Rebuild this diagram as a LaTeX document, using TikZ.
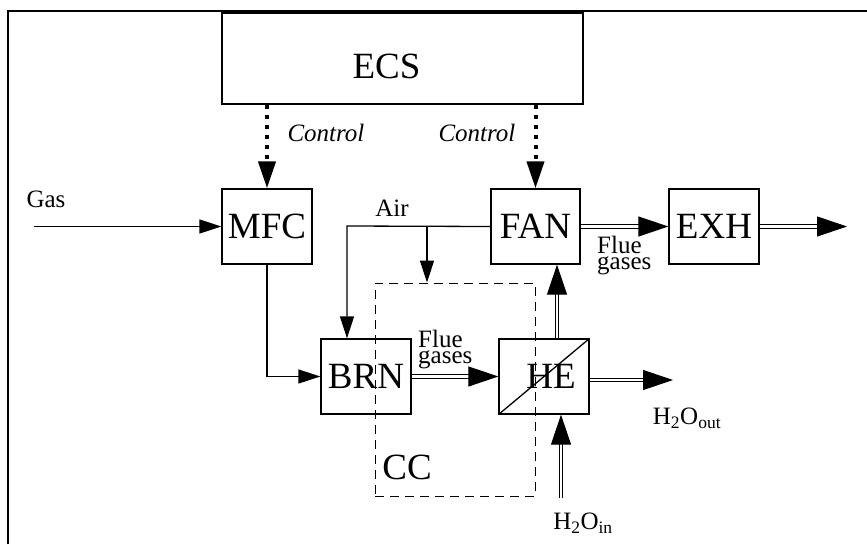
\documentclass[tikz,border=0pt]{standalone}
\usepackage{fontspec}
\setmainfont{Liberation Serif}
\usetikzlibrary{arrows.meta}
\begin{document}
\begin{tikzpicture}[x=1pt,y=-1pt,
  box/.style={draw,line width=1.3pt,minimum width=90pt,minimum height=75pt,inner sep=0pt,font=\fontsize{37}{37}\selectfont},
  lbl/.style={inner sep=0pt,font=\fontsize{25}{17}\selectfont},
  flbl/.style={inner sep=0pt,anchor=base west,font=\fontsize{25}{17}\selectfont},
  conn/.style={line width=1.3pt,-{Triangle[length=22pt,width=14pt]}},
  dconn/.style={line width=1.1pt,double,double distance=2.2pt,-{Triangle[length=30pt,width=20pt]}},
  ctrl/.style={line width=4pt,dash pattern=on 4pt off 6pt,-{Triangle[length=27pt,width=17pt]}}]
\useasboundingbox (0,0) rectangle (867,544);
\draw[line width=2pt] (8,544) -- (8,11) -- (867,11);
% boxes
\node[box,minimum width=361pt,minimum height=91pt,label={[xshift=-16pt,yshift=-8pt,font=\fontsize{37}{37}\selectfont]center:ECS}] (ecs) at (402.5,58.5) {};
\node[box] (mfc) at (267,226.5) {MFC};
\node[box,minimum width=89pt] (fan) at (535.5,226.5) {FAN};
\node[box] (exh) at (714,226.5) {EXH};
\node[box] (brn) at (366,376.5) {BRN};
\node[box,text width=90pt,align=center] (he) at (544,376.5) {\hspace*{14pt}HE};
\node[draw,line width=0.9pt,dash pattern=on 9pt off 6pt,minimum width=160pt,minimum height=213pt,inner sep=0pt] (cc) at (455,389.5) {};
\draw[line width=1.3pt] (he.south west) -- (he.north east);
% coordinates
\coordinate (gasin) at (34,226.5);
\coordinate (airc) at (347,226);
\coordinate (airb) at (427,226);
\coordinate (h2oin) at (561,498);
\coordinate (heout) at (673,380);
\coordinate (exout) at (847,226.5);
% connectors
\draw[conn] (gasin) -- (mfc.west);
\draw[ctrl] (ecs.south -| mfc.north) -- (mfc.north);
\draw[ctrl] (ecs.south -| fan.north) -- (fan.north);
\draw[conn] (mfc.south) |- (brn.west);
\draw[conn] (fan.west) -- (airc) -- (airc |- brn.north);
\draw[conn] (airb) -- (airb |- cc.north);
\draw[dconn] (brn.east) -- (he.west);
\draw[dconn] ([xshift=13pt]he.north) -- ([xshift=13pt]he.north |- fan.south);
\draw[dconn] (h2oin) -- (h2oin |- he.south);
\draw[dconn] (he.east |- heout) -- (heout);
\draw[dconn] (fan.east) -- (exh.west);
\draw[dconn] (exh.east) -- (exout);
% labels
\node[lbl] (gaslbl) at (46,199) {Gas};
\node[lbl,font=\fontsize{25}{17}\selectfont\itshape] (c1) at (326,133) {Control};
\node[lbl,font=\fontsize{25}{17}\selectfont\itshape] (c2) at (477,133) {Control};
\node[lbl] (airlbl) at (392,208) {Air};
\node[flbl] (fg1a) at (418,347) {Flue};
\node[flbl] (fg1b) at (418,363) {gases};
\node[flbl] (fg2a) at (597,253) {Flue};
\node[flbl] (fg2b) at (597,269) {gases};
\node[lbl] (outlbl) at (687,418) {H\textsubscript{2}O\textsubscript{out}};
\node[lbl] (inlbl) at (583,523) {H\textsubscript{2}O\textsubscript{in}};
\node[lbl,font=\fontsize{37}{37}\selectfont] (cclbl) at (407,467) {CC};
\end{tikzpicture}
\end{document}
